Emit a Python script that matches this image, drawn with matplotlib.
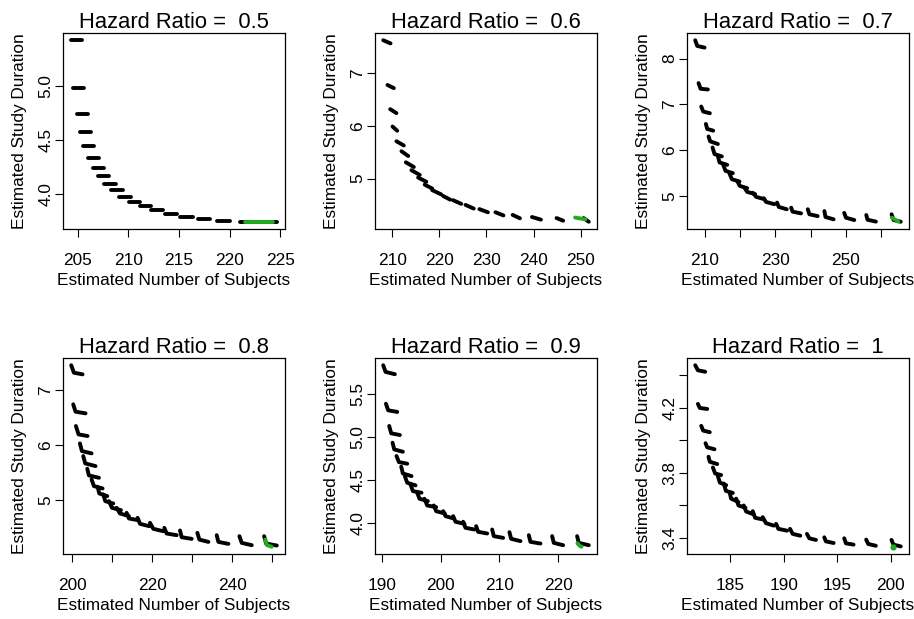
import numpy as np
import matplotlib.pyplot as plt

plt.rcParams['font.family'] = ['Liberation Sans', 'DejaVu Sans']

# hazard ratios for the six panels
hazard_ratios = ['0.5', '0.6', '0.7', '0.8', '0.9', '1']

# each inner list is one cluster of designs (start, bend, end)
hr05_x = [[204.34, 205.36], [204.54, 205.63], [204.87, 205.95], [205.2, 206.25],
          [205.53, 206.64], [205.99, 207.07], [206.48, 207.6], [207.0, 208.1],
          [207.63, 208.72], [208.32, 209.5], [209.11, 210.3], [210.03, 211.18],
          [211.12, 212.24], [212.27, 213.42], [213.62, 214.8], [215.13, 216.35],
          [216.84, 218.03], [218.75, 220.0], [221.05, 224.67]]
hr05_y = [[5.425, 5.425], [4.984, 4.984], [4.745, 4.745], [4.575, 4.575],
          [4.444, 4.444], [4.339, 4.339], [4.245, 4.245], [4.165, 4.165],
          [4.096, 4.096], [4.037, 4.037], [3.978, 3.978], [3.932, 3.932],
          [3.888, 3.888], [3.851, 3.851], [3.82, 3.82], [3.792, 3.792],
          [3.77, 3.77], [3.755, 3.755], [3.745, 3.745]]
hr05_gx = [221.5, 224.3]
hr05_gy = [3.745, 3.745]

hr06_x = [[208.1, 209.65], [209.0, 210.35], [209.58, 210.9], [210.07, 211.06],
          [210.9, 212.46], [211.97, 213.4], [212.9, 214.6], [214.08, 215.85],
          [215.5, 217.25], [216.9, 218.5], [218.5, 220.4], [220.8, 222.3],
          [222.9, 224.65], [225.56, 227.3], [228.5, 230.3], [231.9, 233.6],
          [235.56, 237.1], [239.65, 241.55], [244.86, 246.27], [250.6, 251.7]]
hr06_y = [[7.63, 7.57], [6.78, 6.72], [6.32, 6.245], [5.99, 5.91],
          [5.71, 5.63], [5.52, 5.43], [5.31, 5.22], [5.16, 5.07],
          [5.02, 4.94], [4.885, 4.81], [4.78, 4.70], [4.67, 4.60],
          [4.59, 4.52], [4.50, 4.43], [4.42, 4.36], [4.36, 4.30],
          [4.31, 4.245], [4.27, 4.22], [4.25, 4.20], [4.25, 4.18]]
hr06_gx = [248.8, 251.0]
hr06_gy = [4.26, 4.225]

hr07_x = [[207.36, 207.93, 210.0], [208.3, 208.87, 210.94], [209.06, 209.62, 211.5],
          [210.38, 210.75, 212.45], [211.13, 211.6, 213.76], [212.26, 212.82, 214.9],
          [213.76, 214.24, 216.4], [215.27, 215.93, 218.0], [217.06, 217.72, 219.88],
          [219.2, 219.98, 222.05], [221.3, 222.05, 224.3], [223.65, 224.6, 226.94],
          [226.75, 227.4, 229.76], [230.5, 231.0, 233.25], [234.5, 234.9, 237.3],
          [239.2, 239.65, 242.0], [243.9, 244.2, 246.5], [249.5, 250.0, 252.35],
          [255.74, 256.1, 258.47], [262.9, 263.46, 265.5]]
hr07_y = [[8.402, 8.278, 8.241], [7.466, 7.342, 7.327], [6.954, 6.844, 6.808],
          [6.574, 6.464, 6.427], [6.30, 6.193, 6.135], [6.06, 5.915, 5.864],
          [5.878, 5.732, 5.681], [5.681, 5.549, 5.498], [5.49, 5.366, 5.315],
          [5.33, 5.22, 5.17], [5.18, 5.09, 5.04], [5.07, 4.98, 4.93],
          [4.95, 4.87, 4.82], [4.855, 4.76, 4.71], [4.745, 4.657, 4.62],
          [4.71, 4.60, 4.56], [4.67, 4.54, 4.49], [4.63, 4.525, 4.474],
          [4.584, 4.48, 4.44], [4.6, 4.474, 4.437]]
hr07_gx = [263.0, 264.8]
hr07_gy = [4.525, 4.44]

hr08_x = [[199.75, 200.42, 202.58], [200.25, 200.83, 203.33], [200.92, 201.58, 203.83],
          [201.92, 202.42, 204.83], [202.75, 203.25, 205.83], [203.75, 204.17, 206.67],
          [204.83, 205.42, 207.58], [206.33, 206.75, 208.75], [207.75, 208.25, 210.25],
          [209.17, 209.92, 212.17], [211.08, 211.92, 214.17], [213.58, 214.17, 216.5],
          [216.33, 216.92, 219.25], [219.42, 220.25, 222.75], [223.0, 223.58, 226.08],
          [226.92, 227.33, 229.83], [231.25, 231.75, 234.0], [236.08, 236.5, 239.0],
          [241.75, 242.33, 244.83], [247.92, 248.42, 251.08]]
hr08_y = [[7.455, 7.32, 7.29], [6.745, 6.612, 6.582], [6.352, 6.2, 6.17],
          [6.036, 5.897, 5.855], [5.806, 5.673, 5.624], [5.576, 5.455, 5.412],
          [5.382, 5.261, 5.218], [5.248, 5.127, 5.079], [5.109, 4.988, 4.945],
          [4.988, 4.867, 4.824], [4.867, 4.764, 4.715], [4.776, 4.673, 4.642],
          [4.685, 4.576, 4.533], [4.594, 4.485, 4.442], [4.503, 4.4, 4.37],
          [4.455, 4.333, 4.303], [4.412, 4.29, 4.248], [4.37, 4.248, 4.212],
          [4.352, 4.23, 4.188], [4.352, 4.218, 4.182]]
hr08_gx = [248.2, 248.6, 249.8]
hr08_gy = [4.29, 4.19, 4.16]

hr09_x = [[190.17, 190.57, 192.16], [190.63, 191.02, 192.56], [191.19, 191.53, 193.01],
          [191.76, 192.05, 193.52], [192.44, 192.84, 194.26], [193.24, 193.52, 195.0],
          [193.86, 194.26, 195.68], [194.83, 195.23, 196.7], [195.97, 196.36, 197.78],
          [197.2, 197.67, 199.2], [198.8, 199.2, 200.68], [200.4, 200.8, 202.2],
          [202.1, 202.5, 204.03], [203.8, 204.2, 205.74], [206.02, 206.36, 207.9],
          [208.75, 209.03, 210.62], [211.7, 211.99, 213.58], [215.0, 215.28, 216.99],
          [218.98, 219.26, 220.85], [223.24, 223.52, 225.23]]
hr09_y = [[5.837, 5.76, 5.733], [5.39, 5.314, 5.295], [5.132, 5.047, 5.027],
          [4.938, 4.86, 4.833], [4.783, 4.713, 4.694], [4.659, 4.581, 4.55],
          [4.55, 4.473, 4.442], [4.453, 4.376, 4.357], [4.357, 4.287, 4.26],
          [4.287, 4.209, 4.19], [4.209, 4.143, 4.116], [4.143, 4.085, 4.058],
          [4.085, 4.02, 3.996], [4.02, 3.95, 3.93], [3.969, 3.903, 3.884],
          [3.93, 3.853, 3.833], [3.899, 3.822, 3.795], [3.864, 3.787, 3.767],
          [3.853, 3.775, 3.748], [3.853, 3.775, 3.748]]
hr09_gx = [223.3, 223.7, 224.0]
hr09_gy = [3.77, 3.74, 3.73]

hr10_x = [[181.74, 181.99, 182.67], [181.99, 182.17, 182.86], [182.3, 182.48, 183.1],
          [182.7, 182.86, 183.54], [182.98, 183.1, 183.79], [183.39, 183.6, 184.16],
          [183.85, 184.04, 184.63], [184.41, 184.6, 185.25], [184.94, 185.09, 185.78],
          [185.56, 185.78, 186.43], [186.27, 186.49, 187.2], [187.11, 187.33, 188.04],
          [188.04, 188.35, 189.07], [189.29, 189.5, 190.31], [190.59, 190.84, 191.55],
          [192.17, 192.39, 193.01], [193.79, 193.94, 194.66], [195.65, 195.81, 196.52],
          [197.7, 197.89, 198.6], [200.06, 200.25, 200.93]]
hr10_y = [[4.463, 4.432, 4.423], [4.225, 4.2, 4.194], [4.09, 4.061, 4.051],
          [3.983, 3.958, 3.946], [3.9, 3.869, 3.855], [3.834, 3.797, 3.787],
          [3.782, 3.741, 3.725], [3.735, 3.69, 3.677], [3.683, 3.642, 3.621],
          [3.642, 3.6, 3.586], [3.6, 3.563, 3.545], [3.565, 3.524, 3.514],
          [3.528, 3.491, 3.476], [3.487, 3.456, 3.445], [3.456, 3.425, 3.414],
          [3.425, 3.398, 3.388], [3.404, 3.379, 3.369], [3.398, 3.367, 3.359],
          [3.39, 3.363, 3.352], [3.388, 3.359, 3.348]]
hr10_gx = [200.16]
hr10_gy = [3.346]

panels = [
    (hr05_x, hr05_y, hr05_gx, hr05_gy, [205, 210, 215, 220, 225], [205, 210, 215, 220, 225],
     [4.0, 4.5, 5.0], ['4.0', '4.5', '5.0']),
    (hr06_x, hr06_y, hr06_gx, hr06_gy, [210, 220, 230, 240, 250], [210, 220, 230, 240, 250],
     [5, 6, 7], ['5', '6', '7']),
    (hr07_x, hr07_y, hr07_gx, hr07_gy, [210, 220, 230, 240, 250, 260], [210, '', 230, '', 250, ''],
     [5, 6, 7, 8], ['5', '6', '7', '8']),
    (hr08_x, hr08_y, hr08_gx, hr08_gy, [200, 210, 220, 230, 240, 250], [200, '', 220, '', 240, ''],
     [5, 6, 7], ['5', '6', '7']),
    (hr09_x, hr09_y, hr09_gx, hr09_gy, [190, 200, 210, 220], [190, 200, 210, 220],
     [4.0, 4.5, 5.0, 5.5], ['4.0', '4.5', '5.0', '5.5']),
    (hr10_x, hr10_y, hr10_gx, hr10_gy, [185, 190, 195, 200], [185, 190, 195, 200],
     [3.4, 3.6, 3.8, 4.0, 4.2, 4.4], ['3.4', '', '3.8', '', '4.2', '']),
]

W, H = 914, 619
fig = plt.figure(figsize=(W / 100, H / 100), dpi=100)

lefts = [63, 375, 687]
tops = [33, 358]
aw, ah = 222, 196

for i, (xs, ys, gx, gy, xt, xtl, yt, ytl) in enumerate(panels):
    left = lefts[i % 3]
    top = tops[i // 3]
    ax = fig.add_axes([left / W, 1 - (top + ah) / H, aw / W, ah / H])
    for hx, hy in zip(xs, ys):
        ax.plot(hx, hy, color='black', lw=2.8, solid_capstyle='round',
                solid_joinstyle='round')
    if len(gx) > 1:
        ax.plot(gx, gy, color='#22aa22', lw=2.8, solid_capstyle='round')
    else:
        ax.plot(gx, gy, 'o', color='#22aa22', ms=4.5, mec='none')
    ax.margins(0.04)
    ax.set_xticks(xt)
    ax.set_xticklabels([str(t) for t in xtl])
    ax.set_yticks(yt)
    ax.set_yticklabels(ytl, rotation=90, va='center')
    ax.tick_params(direction='out', length=6, width=0.8, labelsize=12.4, colors='black')
    ax.tick_params(axis='x', pad=11)
    ax.tick_params(axis='y', pad=1)
    for s in ax.spines.values():
        s.set_linewidth(0.9)
    ax.set_xlabel('Estimated Number of Subjects', fontsize=12.4, labelpad=4)
    ax.set_ylabel('Estimated Study Duration', fontsize=12.4, labelpad=8)
    ax.set_title('Hazard Ratio =  ' + hazard_ratios[i], fontsize=15.8, pad=2)

fig.savefig('out.png', dpi=100)
